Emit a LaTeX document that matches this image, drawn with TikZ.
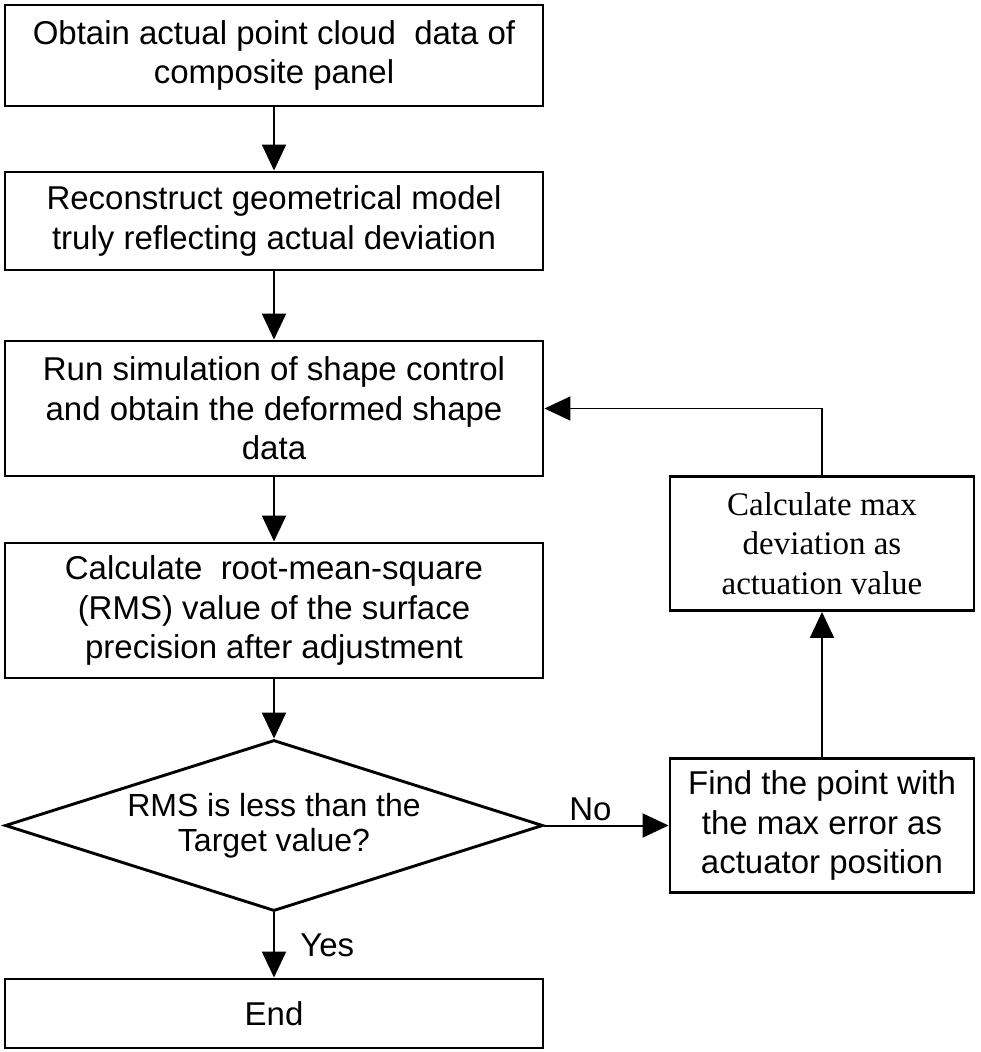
\documentclass[tikz,border=0pt]{standalone}
\usepackage{fontspec}
\setmainfont{Liberation Sans}
\newfontfamily\timesfont{Liberation Serif}
\usetikzlibrary{arrows.meta, positioning, shapes.geometric}

\begin{document}
\begin{tikzpicture}[x=1pt, y=-1pt,
  stepbox/.style={draw, line width=2.9pt, minimum width=538pt, inner sep=0pt,
    align=center, font=\fontsize{33}{39.5}\selectfont},
  sidebox/.style={stepbox, minimum width=304pt, minimum height=134pt},
  decision/.style={draw, diamond, aspect=3.15, line width=2.9pt, inner sep=0pt,
    minimum width=538pt, minimum height=171pt, align=center,
    font=\fontsize{32}{35}\selectfont},
  flow/.style={line width=2pt, -{Triangle[length=26pt, width=24pt]}},
  label/.style={font=\fontsize{33}{39.5}\selectfont}]
  \useasboundingbox (0,0) rectangle (981,1052);

  % Main column
  \node[stepbox, minimum height=101pt] (cloud) at (274,55.5)
    {Obtain actual point cloud \ data of\\composite panel};
  \node[stepbox, minimum height=98pt] (model) at (274,221)
    {Reconstruct geometrical model\\truly reflecting actual deviation};
  \node[stepbox, minimum height=135pt] (sim) at (274,408.5)
    {Run simulation of shape control\\and obtain the deformed shape\\data};
  \node[stepbox, minimum height=135pt] (rms) at (274,610.5)
    {Calculate \ root-mean-square\\(RMS) value of the surface\\precision after adjustment};
  \node[decision] (test) at (274,825.5)
    {RMS is less than the\\Target value?};
  \node[stepbox, minimum height=69pt] (done) at (274,1013.5) {End};

  % Correction loop
  \node[sidebox] (find) at (822,825.5)
    {Find the point with\\the max error as\\actuator position};
  \node[sidebox, font=\timesfont\fontsize{33}{39.5}\selectfont] (calc) at (822,543.5)
    {Calculate max\\deviation as\\actuation value};

  % Connectors
  \draw[flow] (cloud) -- (model);
  \draw[flow] (model) -- (sim);
  \draw[flow] (sim) -- (rms);
  \draw[flow] (rms) -- (test);
  \draw[flow] (test.south) -- node[label, right=22pt] {Yes} (done.north);
  \draw[flow] (test.east) -- node[label, above, pos=0.37] {No} (find.west);
  \draw[flow] (find) -- (calc);
  \draw[flow, line width=1.6pt] (calc.north) |- (sim.east);
\end{tikzpicture}
\end{document}
